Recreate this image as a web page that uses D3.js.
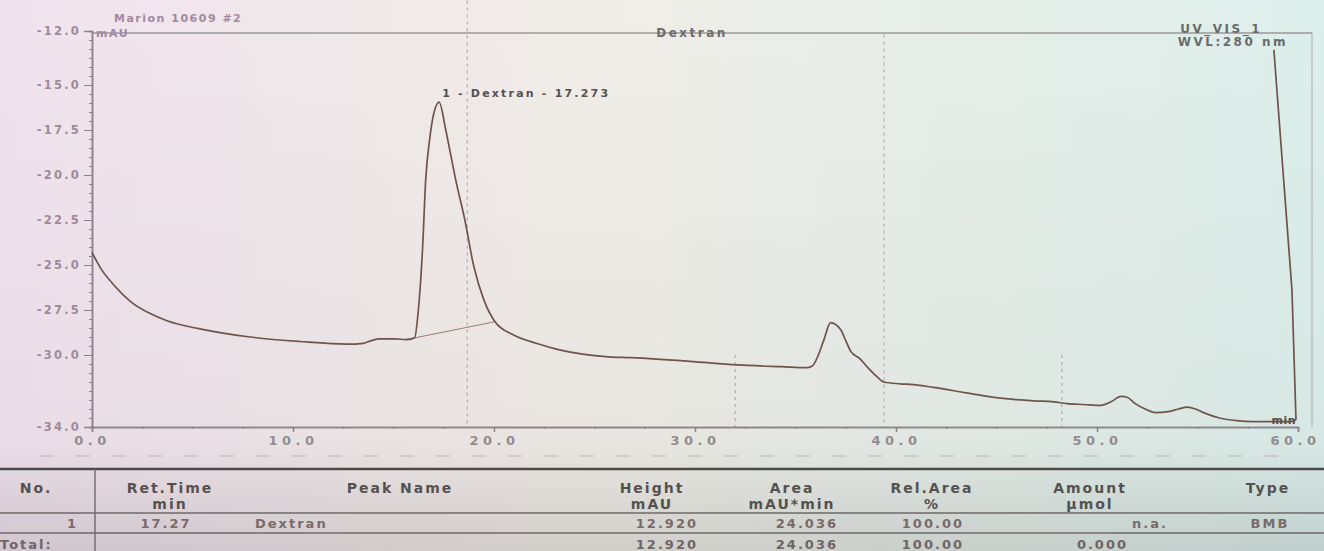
<!DOCTYPE html>
<html>
<head>
<meta charset="utf-8">
<script src="https://cdn.jsdelivr.net/npm/d3@7"></script>
<style>
  html, body { margin: 0; padding: 0; background: #eef0ee; }
  svg { display: block; }
  text { font-family: "DejaVu Sans", "Liberation Sans", Arial, sans-serif; font-weight: bold; }
</style>
</head>
<body>
<svg id="chart" width="1324" height="551"></svg>
<script>
// ---------------- data ----------------
const chartTitle = "Dextran";
const sampleName = "Marion 10609 #2";
const channelName = "UV_VIS_1";
const wavelength = "WVL:280 nm";
const yUnit = "mAU";
const xUnit = "min";

const xTicks = [0, 10, 20, 30, 40, 50, 60];
const yTicks = [-12, -15, -17.5, -20, -22.5, -25, -27.5, -30, -34];

const timeMin = [0, 0.5, 1.0, 1.5, 2.0, 2.9, 3.73, 5.37, 7.86, 10.33, 12.7, 13.5, 13.9, 14.3, 15.1, 15.6,
  16.05, 16.22, 16.45, 16.6, 16.8, 17.0, 17.27, 17.6, 17.85, 18.1, 18.55, 19.0, 19.5, 20.05,
  21.0, 22.1, 23.2, 24.4, 25.7, 26.8, 29.75, 32.1, 34.3, 35.6, 35.85, 36.1, 36.4, 36.75,
  37.25, 37.5, 37.75, 38.2, 38.6, 39.0, 39.4, 40.2, 40.85, 41.85, 43.5, 45.2, 46.85, 47.85,
  48.5, 49.35, 50.2, 50.7, 51.2, 51.5, 51.9, 52.4, 52.9, 53.55, 54.05, 54.5, 54.9, 55.3,
  56.1, 56.95, 57.8, 59.65, 59.9, 59.7, 58.8];
const signalMAU = [-24.3, -25.3, -26.0, -26.6, -27.1, -27.7, -28.1, -28.55, -29.0, -29.25, -29.4, -29.35, -29.2, -29.1, -29.1, -29.15,
  -29.05, -27.7, -24.0, -20.3, -18.0, -16.6, -15.95, -17.5, -18.9, -20.3, -22.5, -25.1, -26.95, -28.15,
  -28.9, -29.35, -29.7, -29.95, -30.1, -30.15, -30.35, -30.55, -30.65, -30.7, -30.6, -30.1, -29.2, -28.2,
  -28.6, -29.2, -29.8, -30.2, -30.7, -31.15, -31.5, -31.6, -31.65, -31.8, -32.1, -32.4, -32.55, -32.6,
  -32.7, -32.75, -32.8, -32.6, -32.3, -32.35, -32.7, -33.0, -33.2, -33.15, -33.0, -32.9, -33.0, -33.2,
  -33.5, -33.65, -33.7, -33.7, -33.6, -26.4, -13.05];

// integration baseline of peak 1
const baselineTime = [16.05, 20.05];
const baselineMAU = [-29.05, -28.15];

// dotted event marks
const markTime = [18.67, 32.0, 39.4, 48.25];
const markTopMAU = [-10.3, -30.0, -12.2, -30.0];

const peakLabel = "1 - Dextran - 17.273";
const peakTime = 17.27;
const peakMAU = -15.95;

// results table
const tableHeaders1 = ["No.", "Ret.Time", "Peak Name", "Height", "Area", "Rel.Area", "Amount", "Type"];
const tableHeaders2 = ["", "min", "", "mAU", "mAU*min", "%", "µmol", ""];
const row1 = ["1", "17.27", "Dextran", "12.920", "24.036", "100.00", "n.a.", "BMB"];
const rowTotal = ["Total:", "", "", "12.920", "24.036", "100.00", "0.000", ""];

// ---------------- drawing ----------------
const W = 1324, H = 551;
const svg = d3.select("#chart");

const defs = svg.append("defs");
const grad = defs.append("linearGradient").attr("id", "paper").attr("x1", "0").attr("y1", "0").attr("x2", "1").attr("y2", "0");
grad.append("stop").attr("offset", "0").attr("stop-color", "#f0e3ee");
grad.append("stop").attr("offset", "0.45").attr("stop-color", "#f0ede8");
grad.append("stop").attr("offset", "1").attr("stop-color", "#ddefeb");
const grad2 = defs.append("linearGradient").attr("id", "shade").attr("x1", "0").attr("y1", "0").attr("x2", "0").attr("y2", "1");
grad2.append("stop").attr("offset", "0").attr("stop-color", "#000").attr("stop-opacity", 0);
grad2.append("stop").attr("offset", "0.8").attr("stop-color", "#000").attr("stop-opacity", 0.03);
grad2.append("stop").attr("offset", "1").attr("stop-color", "#000").attr("stop-opacity", 0.13);

svg.append("rect").attr("width", W).attr("height", H).attr("fill", "url(#paper)");
svg.append("rect").attr("width", W).attr("height", H).attr("fill", "url(#shade)");

const x = d3.scaleLinear().domain([0, 60]).range([92, 1298]);
const y = d3.scaleLinear().domain([-34, -12]).range([427, 31]);

const axisColor = "#8d8088";
const labelColor = "#a08a9a";

// plot frame (top and right)
svg.append("line").attr("x1", x(0)).attr("x2", 1312).attr("y1", y(-12) + 2).attr("y2", y(-12) + 2)
  .attr("stroke", "#9a9898").attr("stroke-width", 1.6);
svg.append("line").attr("x1", 1312).attr("x2", 1312).attr("y1", y(-12) + 2).attr("y2", y(-34))
  .attr("stroke", "#a8aaa8").attr("stroke-width", 1);

// dotted marks
markTime.forEach((t, i) => {
  svg.append("line").attr("x1", x(t)).attr("x2", x(t)).attr("y1", y(markTopMAU[i])).attr("y2", y(-34))
    .attr("stroke", "#b8a6b2").attr("stroke-width", 1.2).attr("stroke-dasharray", "3,4");
});

// y axis
const yAxis = svg.append("g").attr("transform", `translate(${x(0)},0)`)
  .call(d3.axisLeft(y).tickValues(yTicks).tickSize(8).tickPadding(3).tickFormat(d => d.toFixed(1)));
const yMinor = svg.append("g").attr("transform", `translate(${x(0)},0)`)
  .call(d3.axisLeft(y).tickValues(d3.range(-34, -12, 0.5)).tickSize(3).tickFormat(""));
[yAxis, yMinor].forEach(g => {
  g.select(".domain").attr("stroke", axisColor).attr("stroke-width", 1.5);
  g.selectAll(".tick line").attr("stroke", axisColor);
});
yAxis.selectAll(".tick text").attr("fill", labelColor).attr("font-size", 11.5)
  .attr("font-family", "DejaVu Sans").attr("font-weight", "bold").attr("letter-spacing", 2.2);

// x axis
const xAxis = svg.append("g").attr("transform", `translate(0,${y(-34)})`)
  .call(d3.axisBottom(x).tickValues(xTicks).tickSize(5).tickPadding(4).tickFormat(d => d.toFixed(1)));
const xMinor = svg.append("g").attr("transform", `translate(0,${y(-34)})`)
  .call(d3.axisBottom(x).tickValues(d3.range(0, 60, 2.5)).tickSize(2).tickFormat(""));
[xAxis, xMinor].forEach(g => {
  g.select(".domain").attr("stroke", "#8c8488").attr("stroke-width", 1.5);
  g.selectAll(".tick line").attr("stroke", "#8c8488").attr("stroke-width", 1.5);
});
xAxis.selectAll(".tick text").attr("fill", "#928c8e").attr("font-size", 13)
  .attr("font-family", "DejaVu Sans").attr("font-weight", "bold").attr("letter-spacing", 4.5);
xAxis.selectAll(".tick").filter(d => d === 60).select("text").attr("text-anchor", "end").attr("dx", 22);

// faint dashes under the axis labels
svg.append("line").attr("x1", 40).attr("x2", 1290).attr("y1", 456).attr("y2", 456)
  .attr("stroke", "#b9b3b6").attr("stroke-width", 1.2).attr("stroke-dasharray", "14,22");

// header texts
svg.append("text").attr("x", 114).attr("y", 22).attr("font-size", 11).attr("letter-spacing", 1.5)
  .attr("fill", "#a487a0").text(sampleName);
svg.append("text").attr("x", 96).attr("y", 37).attr("font-size", 11).attr("letter-spacing", 1.5)
  .attr("fill", "#a487a0").text(yUnit);
svg.append("text").attr("x", 692).attr("y", 37).attr("text-anchor", "middle").attr("font-size", 12)
  .attr("letter-spacing", 2.5).attr("fill", "#6e6a6c").text(chartTitle);
svg.append("text").attr("x", 1262).attr("y", 33).attr("text-anchor", "end").attr("font-size", 12)
  .attr("letter-spacing", 2.5).attr("fill", "#6a6a6c").text(channelName);
svg.append("text").attr("x", 1288).attr("y", 46).attr("text-anchor", "end").attr("font-size", 12)
  .attr("letter-spacing", 2.5).attr("fill", "#6a6a6c").text(wavelength);

// integration baseline
const line = d3.line().x(d => x(d[0])).y(d => y(d[1]));
svg.append("path").datum(baselineTime.map((t, i) => [t, baselineMAU[i]]))
  .attr("d", line).attr("fill", "none").attr("stroke", "#9a7d72").attr("stroke-width", 1);

// trace: smooth part while time increases, then the end-of-run rise
const pts = timeMin.map((t, i) => [t, signalMAU[i]]);
let k = 1;
while (k < pts.length && pts[k][0] > pts[k - 1][0]) k++;
const mainPts = pts.slice(0, k);
const risePts = pts.slice(k - 1);
const smooth = d3.line().x(d => x(d[0])).y(d => y(d[1])).curve(d3.curveMonotoneX);
const straight = d3.line().x(d => x(d[0])).y(d => y(d[1]));
svg.append("path").datum(mainPts).attr("d", smooth)
  .attr("fill", "none").attr("stroke", "#6e544c").attr("stroke-width", 1.7).attr("stroke-linejoin", "round");
svg.append("path").datum(risePts).attr("d", straight)
  .attr("fill", "none").attr("stroke", "#6e544c").attr("stroke-width", 1.7).attr("stroke-linejoin", "round");

// peak label
svg.append("text").attr("x", x(peakTime) + 3).attr("y", y(peakMAU) - 5).attr("font-size", 11)
  .attr("letter-spacing", 2.2).attr("fill", "#555152").text(peakLabel);

// x unit
svg.append("text").attr("x", 1296).attr("y", y(-34) - 3).attr("text-anchor", "end").attr("font-size", 11)
  .attr("letter-spacing", 0.5).attr("fill", "#5a4c48").text(xUnit);

// ---------------- table ----------------
const tbl = svg.append("g");
const tColor = "#55514f";
tbl.append("line").attr("x1", 0).attr("x2", W).attr("y1", 469).attr("y2", 469).attr("stroke", "#4c4a48").attr("stroke-width", 2.5);
tbl.append("line").attr("x1", 0).attr("x2", W).attr("y1", 513).attr("y2", 513).attr("stroke", "#6e6a68").attr("stroke-width", 1.4);
tbl.append("line").attr("x1", 0).attr("x2", W).attr("y1", 533).attr("y2", 533).attr("stroke", "#6e6a68").attr("stroke-width", 1.4);
tbl.append("line").attr("x1", 95).attr("x2", 95).attr("y1", 469).attr("y2", H).attr("stroke", "#6e6a68").attr("stroke-width", 1.4);

const colX = [36, 170, 400, 652, 792, 932, 1090, 1268];
const rowAnchor = ["end", "middle", "start", "end", "end", "end", "end", "middle"];
const rowX = [78, 166, 255, 698, 838, 964, 1168, 1270];
const fs = 14, ls = 2;

tableHeaders1.forEach((h, i) => {
  tbl.append("text").attr("x", colX[i]).attr("y", 493).attr("text-anchor", "middle").attr("font-size", fs)
    .attr("letter-spacing", ls).attr("fill", tColor).text(h);
});
tableHeaders2.forEach((h, i) => {
  if (!h) return;
  tbl.append("text").attr("x", colX[i]).attr("y", 509).attr("text-anchor", "middle").attr("font-size", fs)
    .attr("letter-spacing", ls).attr("fill", tColor).text(h);
});
row1.forEach((v, i) => {
  tbl.append("text").attr("x", rowX[i]).attr("y", 528).attr("text-anchor", rowAnchor[i]).attr("font-size", fs - 1)
    .attr("letter-spacing", ls).attr("fill", "#7a6a6a").text(v);
});
rowTotal.forEach((v, i) => {
  if (!v) return;
  const anchor = i === 0 ? "start" : rowAnchor[i];
  const xx = i === 0 ? 0 : (i === 6 ? 1128 : rowX[i]);
  tbl.append("text").attr("x", xx).attr("y", 549).attr("text-anchor", anchor).attr("font-size", fs - 1)
    .attr("letter-spacing", ls).attr("fill", "#6f6464").text(v);
});
</script>
</body>
</html>
